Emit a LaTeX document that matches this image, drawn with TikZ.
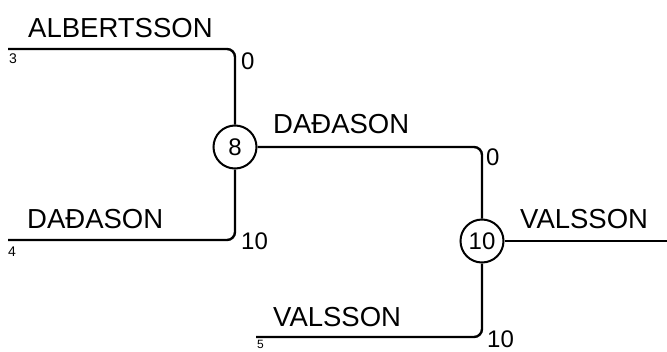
\documentclass[tikz,border=0pt]{standalone}
\usepackage{fontspec}
\setmainfont{Liberation Sans}
\begin{document}
\begin{tikzpicture}[x=1pt,y=-1pt,
  wireline/.style={line width=2.4pt,rounded corners=8pt},
  scorecircle/.style={circle,draw,line width=2pt,minimum size=43pt,inner sep=0pt,font=\fontsize{24}{28}\selectfont},
  playername/.style={anchor=base west,inner sep=0pt,font=\fontsize{27.5}{32}\selectfont},
  scorenum/.style={anchor=base west,inner sep=0pt,font=\fontsize{24}{28}\selectfont},
  seedlabel/.style={anchor=base west,inner sep=0pt,font=\fontsize{14}{16}\selectfont}]
\useasboundingbox (0,0) rectangle (667,351);
% match nodes
\node[scorecircle] (c8) at (235,147) {8};
\node[scorecircle] (c10) at (482,241) {10};
% leaf ends
\coordinate (l3) at (8,49);
\coordinate (l4) at (8,240);
\coordinate (l5) at (256,337);
\coordinate (rend) at (667,241);
% connectors
\draw[wireline] (l3) -| (c8);
\draw[wireline] (l4) -| (c8);
\draw[wireline] (c8) -| (c10);
\draw[wireline] (l5) -| (c10);
\draw[wireline] (c10) -- (rend);
% names
\node[playername] (n1) at (28,37) {ALBERTSSON};
\node[playername] (n2) at (27,228) {DAĐASON};
\node[playername] (n3) at (273,133) {DAĐASON};
\node[playername] (n4) at (520,228) {VALSSON};
\node[playername] (n5) at (273,326) {VALSSON};
% scores
\node[scorenum] (s1) at (241,69) {0};
\node[scorenum] (s2) at (241,249) {10};
\node[scorenum] (s3) at (486,165) {0};
\node[scorenum] (s4) at (487,347) {10};
% seeds
\node[seedlabel] (d3) at (9,63) {3};
\node[seedlabel] (d4) at (8,256) {4};
\node[seedlabel,font=\fontsize{12}{14}\selectfont] (d5) at (257,348) {5};
\end{tikzpicture}
\end{document}
